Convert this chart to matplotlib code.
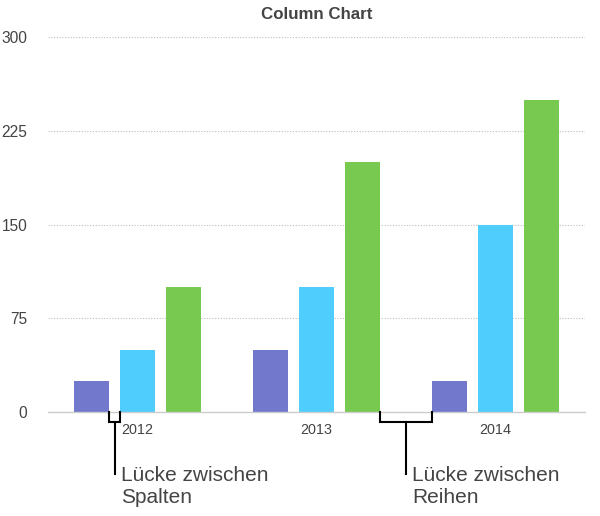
import numpy as np
import matplotlib
matplotlib.use('Agg')
import matplotlib.pyplot as plt

plt.rcParams['font.family'] = ['Liberation Sans', 'DejaVu Sans']

years   = ['2012', '2013', '2014']
series1 = [25, 50, 25]
series2 = [50, 100, 150]
series3 = [100, 200, 250]
colors  = ['#7279CC', '#4FCDFD', '#78C950']
yticks  = [0, 75, 150, 225, 300]

width  = 0.196
offset = 0.255
x = np.arange(len(years))

fig = plt.figure(figsize=(6.0, 5.16), dpi=100)
ax = fig.add_axes([0.08, 0.2016, 0.895, 0.7261])

for i, vals in enumerate([series1, series2, series3]):
    ax.bar(x + (i - 1) * offset, vals, width, color=colors[i], zorder=3)

ax.set_xlim(-0.5, 2.5)
ax.set_ylim(0, 300)
ax.set_yticks(yticks)
ax.set_xticks(x)
ax.set_xticklabels(years)
ax.tick_params(axis='both', length=0, labelcolor='#444444')
ax.tick_params(axis='y', pad=15, labelsize=11.2)
ax.tick_params(axis='x', pad=8, labelsize=10.4)

for s in ['top', 'right', 'left']:
    ax.spines[s].set_visible(False)
ax.spines['bottom'].set_color('#cccccc')
ax.spines['bottom'].set_linewidth(1.0)
ax.spines['bottom'].set_zorder(4)

for yv in yticks[1:]:
    ax.axhline(yv, color='#bbbbbb', lw=0.8, ls=(0, (1, 1.5)), zorder=1)

ax.set_title('Column Chart', fontsize=12.2, fontweight='bold', color='#444444', pad=13)

# annotation brackets
def bracket(x0, x1, label):
    ytop, ybar, ybot = 0, -8, -50
    xm = (x0 + x1) / 2
    ax.plot([x0, x0, x1, x1], [ytop, ybar, ybar, ytop], color='black', lw=1.5,
            clip_on=False, zorder=5, solid_joinstyle='miter')
    ax.plot([xm, xm], [ybar, ybot], color='black', lw=1.5, clip_on=False, zorder=5)
    ax.text(xm + 0.035, -59.5, label, fontsize=15, color='#444444', ha='left', va='center',
            linespacing=1.22)

bracket(0 - offset + width / 2, 0 - width / 2, 'Lücke zwischen\nSpalten')
bracket(1 + offset + width / 2, 2 - offset - width / 2, 'Lücke zwischen\nReihen')

fig.savefig('out.png', dpi=100)
